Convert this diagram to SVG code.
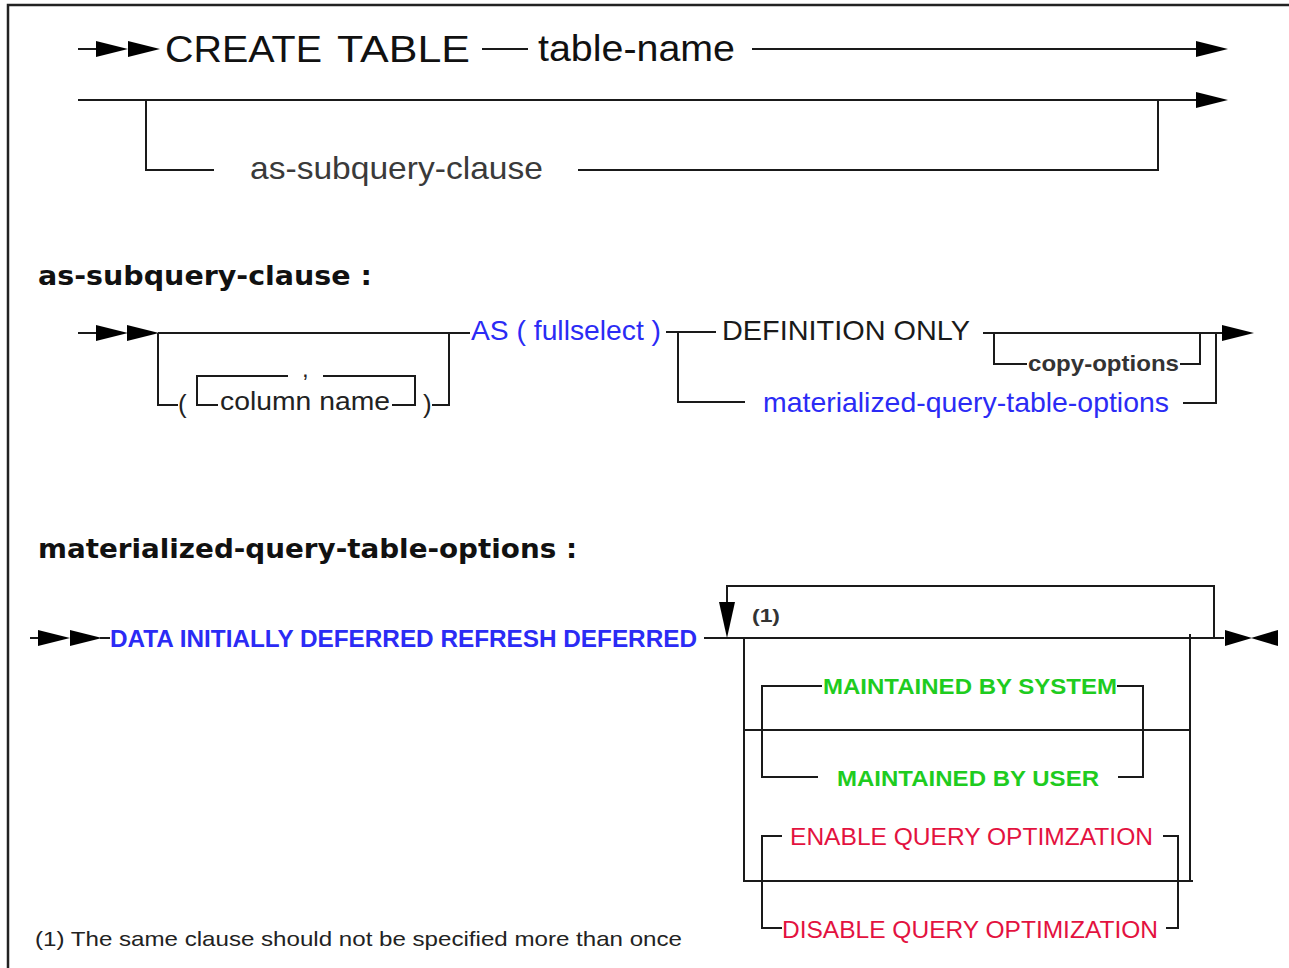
<svg xmlns="http://www.w3.org/2000/svg" xmlns:xlink="http://www.w3.org/1999/xlink" width="1289" height="968" viewBox="0 0 1289 968">
  <style>
    .ln { fill: none; stroke: #1a1a1a; stroke-width: 2; }
    .frame { fill: none; stroke: #222; stroke-width: 2.5; }
    .ah { fill: #000; }
    .sans { font-family: "Liberation Sans", Arial, sans-serif; }
    .head { font-family: "DejaVu Sans", Verdana, sans-serif; font-weight: bold; font-size: 27px; fill: #111; }
    .blue { fill: #2b2bf5; }
    .green { fill: #1fcc1f; font-weight: bold; }
    .red { fill: #e3123f; }
  </style>
  <defs>
    <path id="arr" d="M0,-8 L32,0 L0,8 Z"/>
    <path id="arrS" d="M0,-8 L27,0 L0,8 Z"/>
  </defs>

  <!-- page frame -->
  <path class="frame" d="M8,968 V5 H1289"/>

  <!-- connectors -->
  <g id="connectors">
    <!-- CREATE TABLE statement -->
    <path class="ln" d="M78,49 H98"/>
    <use href="#arr" class="ah" x="96" y="49"/>
    <use href="#arr" class="ah" x="128" y="49"/>
    <path class="ln" d="M482,49 H528"/>
    <path class="ln" d="M752,49 H1198"/>
    <use href="#arr" class="ah" x="1196" y="49"/>
    <path class="ln" d="M78,100 H1198"/>
    <use href="#arr" class="ah" x="1196" y="100"/>
    <path class="ln" d="M146,100 V170 H214"/>
    <path class="ln" d="M578,170 H1158 V100"/>

    <!-- as-subquery-clause -->
    <path class="ln" d="M78,333 H98"/>
    <use href="#arr" class="ah" x="96" y="333"/>
    <use href="#arr" class="ah" x="127" y="333"/>
    <path class="ln" d="M158,333 H470"/>
    <path class="ln" d="M158,333 V405 H178"/>
    <path class="ln" d="M432,405 H449 V333"/>
    <path class="ln" d="M218,405 H197 V376 H288"/>
    <path class="ln" d="M323,376 H415 V405 H392"/>
    <path class="ln" d="M666,332 H716"/>
    <path class="ln" d="M678,332 V402 H745"/>
    <path class="ln" d="M983,333 H1224"/>
    <use href="#arr" class="ah" x="1222" y="333"/>
    <path class="ln" d="M994,333 V364 H1027"/>
    <path class="ln" d="M1180,364 H1200 V333"/>
    <path class="ln" d="M1183,403 H1216 V333"/>

    <!-- materialized-query-table-options -->
    <path class="ln" d="M30,638 H40"/>
    <use href="#arr" class="ah" x="38" y="638"/>
    <use href="#arr" class="ah" x="70" y="638"/>
    <path class="ln" d="M100,638 H110"/>
    <path class="ln" d="M704,638 H1224"/>
    <use href="#arrS" class="ah" x="1225" y="638"/>
    <use href="#arrS" class="ah" transform="translate(1278,638) scale(-1,1)"/>
    <path class="ln" d="M1214,638 V586 H727 V610"/>
    <path class="ah" d="M719,602 L735,602 L727,638 Z"/>
    <path class="ln" d="M744,638 V881 H1193"/>
    <path class="ln" d="M1190,634 V881"/>
    <path class="ln" d="M744,730 H1190"/>
    <path class="ln" d="M822,686 H762 V777 H818"/>
    <path class="ln" d="M1117,686 H1143 V777 H1118"/>
    <path class="ln" d="M782,836 H762 V928 H782"/>
    <path class="ln" d="M1163,836 H1178 V928 H1166"/>
  </g>

  <!-- CREATE TABLE -->
  <g id="create-table" class="sans" font-size="37" fill="#111">
    <text x="165" y="62" textLength="157" lengthAdjust="spacingAndGlyphs">CREATE</text>
    <text x="337" y="62" textLength="133" lengthAdjust="spacingAndGlyphs">TABLE</text>
  </g>
  <g id="table-name" class="sans" font-size="37" fill="#111">
    <text x="538" y="61" textLength="197" lengthAdjust="spacingAndGlyphs">table-name</text>
  </g>
  <g id="as-subquery-ref" class="sans" font-size="32" fill="#3a3a3a">
    <text x="250" y="179" textLength="293" lengthAdjust="spacingAndGlyphs">as-subquery-clause</text>
  </g>

  <!-- as-subquery-clause definition -->
  <g id="heading-as-subquery">
    <text class="head" x="38" y="285" textLength="334" lengthAdjust="spacingAndGlyphs">as-subquery-clause :</text>
  </g>
  <g id="column-list" class="sans" fill="#222">
    <text x="178" y="413" font-size="26">(</text>
    <text x="302" y="377" font-size="24">,</text>
    <text x="220" y="410" font-size="26" textLength="170" lengthAdjust="spacingAndGlyphs">column name</text>
    <text x="423" y="413" font-size="26">)</text>
  </g>
  <g id="as-fullselect" class="sans blue" font-size="28">
    <text x="471" y="340" textLength="190" lengthAdjust="spacingAndGlyphs">AS ( fullselect )</text>
  </g>
  <g id="definition-only" class="sans" font-size="28" fill="#1a1a1a">
    <text x="722" y="340" textLength="248" lengthAdjust="spacingAndGlyphs">DEFINITION ONLY</text>
  </g>
  <g id="copy-options" class="sans" font-size="22" font-weight="bold" fill="#333">
    <text x="1028" y="371" textLength="151" lengthAdjust="spacingAndGlyphs">copy-options</text>
  </g>
  <g id="mqt-options-ref" class="sans blue" font-size="28">
    <text x="763" y="412" textLength="406" lengthAdjust="spacingAndGlyphs">materialized-query-table-options</text>
  </g>

  <!-- materialized-query-table-options definition -->
  <g id="heading-mqt">
    <text class="head" x="38" y="558" textLength="539" lengthAdjust="spacingAndGlyphs">materialized-query-table-options :</text>
  </g>
  <g id="data-initially" class="sans blue" font-size="24" font-weight="bold">
    <text x="110" y="647" textLength="587" lengthAdjust="spacingAndGlyphs">DATA INITIALLY DEFERRED REFRESH DEFERRED</text>
  </g>
  <g id="note-ref" class="sans" font-size="18" font-weight="bold" fill="#333">
    <text x="752" y="622" textLength="28" lengthAdjust="spacingAndGlyphs">(1)</text>
  </g>
  <g id="maintained-system" class="sans green" font-size="22">
    <text x="823" y="694" textLength="294" lengthAdjust="spacingAndGlyphs">MAINTAINED BY SYSTEM</text>
  </g>
  <g id="maintained-user" class="sans green" font-size="22">
    <text x="837" y="786" textLength="262" lengthAdjust="spacingAndGlyphs">MAINTAINED BY USER</text>
  </g>
  <g id="enable-opt" class="sans red" font-size="24">
    <text x="790" y="845" textLength="363" lengthAdjust="spacingAndGlyphs">ENABLE QUERY OPTIMZATION</text>
  </g>
  <g id="disable-opt" class="sans red" font-size="24">
    <text x="782" y="938" textLength="376" lengthAdjust="spacingAndGlyphs">DISABLE QUERY OPTIMIZATION</text>
  </g>

  <!-- footnote -->
  <g id="footnote" class="sans" font-size="21" fill="#222">
    <text x="35" y="946" textLength="647" lengthAdjust="spacingAndGlyphs">(1) The same clause should not be specified more than once</text>
  </g>
</svg>
